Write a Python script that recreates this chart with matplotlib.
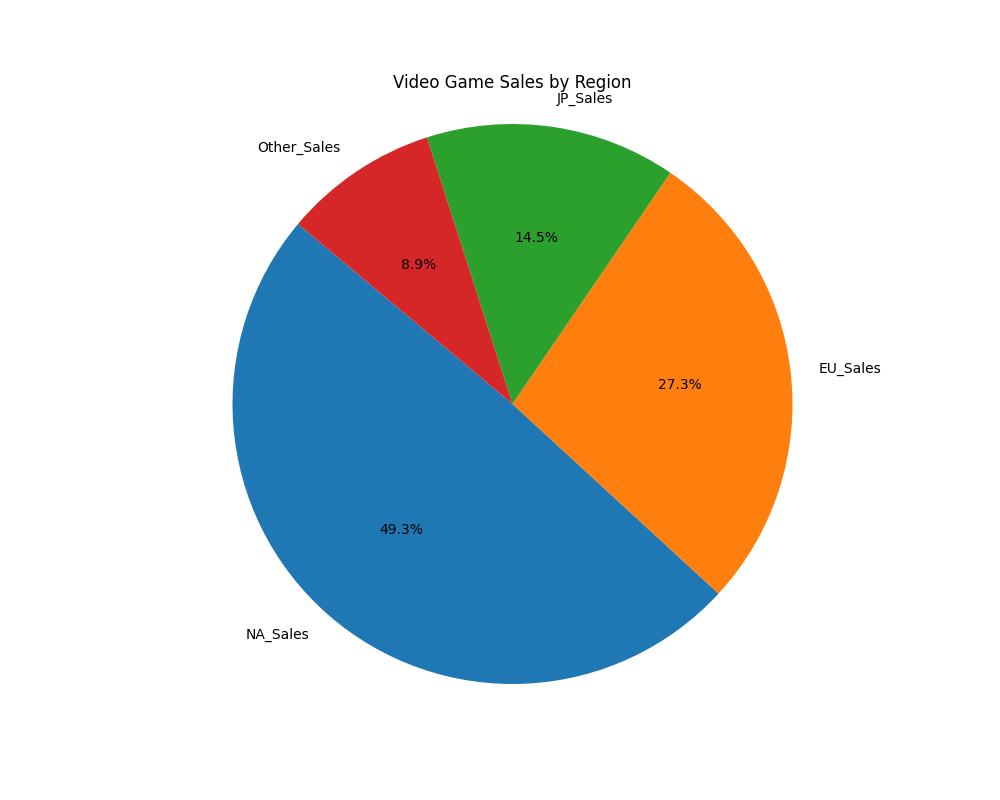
import matplotlib
matplotlib.use("Agg")
import matplotlib.pyplot as plt

regions = ['NA_Sales', 'EU_Sales', 'JP_Sales', 'Other_Sales']
sales = [4392.95, 2434.13, 1291.02, 797.75]

plt.figure(figsize=(10, 8))
plt.pie(sales, labels=regions, autopct='%1.1f%%', startangle=140)
plt.title('Video Game Sales by Region')
plt.axis('equal')
plt.savefig('out.png', dpi=100)
plt.close()
